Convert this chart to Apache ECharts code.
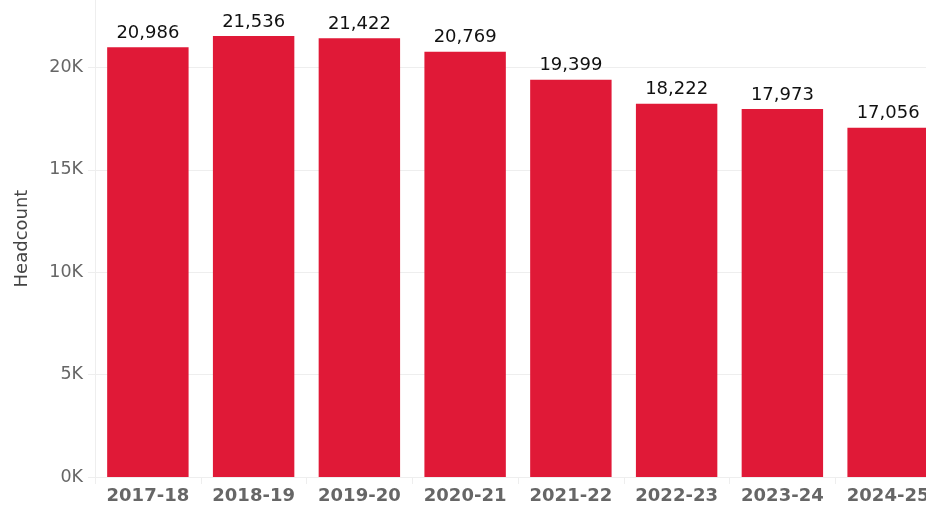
<!DOCTYPE html>
<html>
<head>
<meta charset="utf-8">
<script src="https://cdn.jsdelivr.net/npm/echarts@6/dist/echarts.min.js"></script>
<style>
  html, body { margin: 0; padding: 0; background: #fff; overflow: hidden; }
  /* plot runs a little past the window edge, last bar gets cut like in the original */
  #chart { width: 941px; height: 505px; }
</style>
</head>
<body>
<div id="chart"></div>
<script>
const years = ['2017-18', '2018-19', '2019-20', '2020-21', '2021-22', '2022-23', '2023-24', '2024-25']
const headcount = [20986, 21536, 21422, 20769, 19399, 18222, 17973, 17056]
const yTicks = [0, 5000, 10000, 15000, 20000]

const chart = echarts.init(document.getElementById('chart'))

chart.setOption({
  animation: false,
  grid: {
    left: 95,
    right: 0,
    top: 0,
    bottom: 28,
    containLabel: false
  },
  xAxis: {
    type: 'category',
    data: years,
    axisLine: { show: true, lineStyle: { color: '#eeeeee' } },
    axisTick: { show: true, interval: 0, length: 7, lineStyle: { color: '#eeeeee' } },
    axisLabel: {
      interval: 0,
      hideOverlap: false,
      color: '#666',
      fontFamily: 'DejaVu Sans',
      fontSize: 18,
      fontWeight: 'bold',
      margin: 10
    }
  },
  yAxis: {
    type: 'value',
    min: 0,
    max: 23290,
    interval: 5000,
    name: 'Headcount',
    nameLocation: 'middle',
    nameGap: 64,
    nameTextStyle: { color: '#444', fontFamily: 'DejaVu Sans', fontSize: 18 },
    axisLine: { show: true, lineStyle: { color: '#eeeeee' } },
    axisTick: { show: true, length: 7, lineStyle: { color: '#eeeeee' } },
    splitLine: {
      show: true,
      lineStyle: { color: '#eeeeee' },
      showMaxLine: false
    },
    axisLabel: {
      color: '#666',
      fontFamily: 'DejaVu Sans',
      fontSize: 17.5,
      margin: 12,
      showMaxLabel: false,
      formatter: v => (yTicks.includes(v) ? (v / 1000) + 'K' : '')
    }
  },
  series: [
    {
      type: 'bar',
      data: headcount,
      barCategoryGap: '23%',
      itemStyle: { color: '#E01937' },
      label: {
        show: true,
        position: 'top',
        distance: 5,
        color: '#111',
        fontFamily: 'DejaVu Sans',
        fontSize: 18,
        formatter: p => p.value.toLocaleString('en-US')
      }
    }
  ]
})
</script>
</body>
</html>
